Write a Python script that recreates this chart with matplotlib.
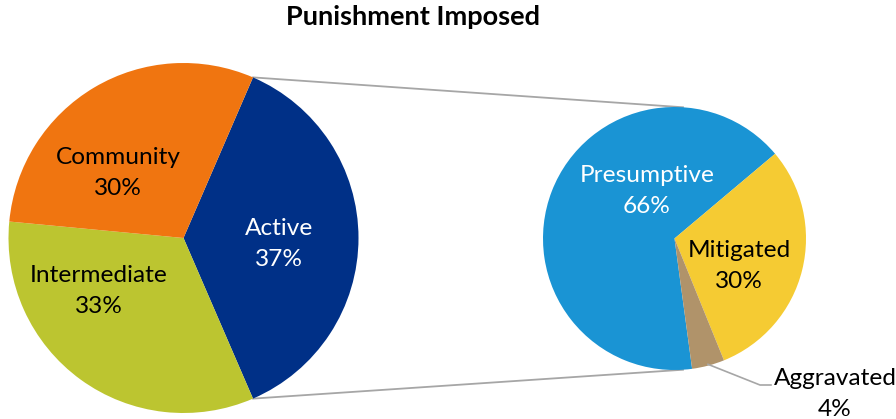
import numpy as np
import matplotlib
matplotlib.use("Agg")
import matplotlib.pyplot as plt

plt.rcParams['font.family'] = ['Lato', 'DejaVu Sans']

title = "Punishment Imposed"
main_labels = ["Active", "Intermediate", "Community"]
main_values = [37, 33, 30]
main_colors = ["#003087", "#BCC530", "#F07510"]
main_text_colors = ["white", "black", "black"]

sub_labels = ["Presumptive", "Mitigated", "Aggravated"]
sub_values = [66, 30, 4]
sub_colors = ["#1A94D4", "#F5CB33", "#B0936A"]
sub_text_colors = ["white", "black", "black"]

W, H = 896, 419
fig = plt.figure(figsize=(W / 100, H / 100), dpi=100)
ax = fig.add_axes([0, 0, 1, 1])

def py(y):  # pixel-from-top to data y
    return H - y

# left pie
c1 = (183.5, py(238)); r1 = 175
start1 = main_values[0] / 100 * 180
ax.pie(main_values, colors=main_colors, startangle=start1, counterclock=False,
       center=c1, radius=r1, wedgeprops=dict(linewidth=0), frame=True)

# right pie
c2 = (674.5, py(238.5)); r2 = 131.5
start2 = -82.3
ax.pie(sub_values, colors=sub_colors, startangle=start2, counterclock=False,
       center=c2, radius=r2, wedgeprops=dict(linewidth=0), frame=True)

ax.set_xlim(0, W); ax.set_ylim(0, H)
ax.set_aspect('equal')
ax.axis('off')

# connector lines
def pt(c, r, deg):
    a = np.deg2rad(deg)
    return c[0] + r * np.cos(a), c[1] + r * np.sin(a)

end1 = start1 - main_values[0] / 100 * 360
for a1, a2 in ((start1, 86.3), (end1, -86.3)):
    p1 = pt(c1, r1, a1)
    p2 = pt(c2, r2, a2)
    ax.plot([p1[0], p2[0]], [p1[1], p2[1]], color="#A6A6A6", lw=1.3, zorder=0)

# labels
fs = 17.6
ls = 1.62
main_pos = [(279, 244), (99, 291), (118, 173)]
for lab, v, col, (x, y) in zip(main_labels, main_values, main_text_colors, main_pos):
    ax.text(x, py(y), f"{lab}\n{v}%", color=col, ha='center', va='center',
            fontsize=fs, linespacing=ls)

sub_pos = [(647, 191), (739, 266), (835, 394)]
for lab, v, col, (x, y) in zip(sub_labels, sub_values, sub_text_colors, sub_pos):
    ax.text(x, py(y), f"{lab}\n{v}%", color=col, ha='center', va='center',
            fontsize=fs, linespacing=ls)

# leader line for the small slice
cum = np.cumsum([0] + sub_values)
mid = start2 - (cum[2] + sub_values[2] / 2) / 100 * 360
p0 = pt(c2, r2 * 0.99, mid)
ax.plot([p0[0], 760, 771], [p0[1], py(385), py(385)], color="#A6A6A6", lw=1.2)

ax.text(412.5, py(17), title, ha='center', va='center', fontsize=19.5,
        fontweight='bold')

fig.savefig("out.png", dpi=100)
